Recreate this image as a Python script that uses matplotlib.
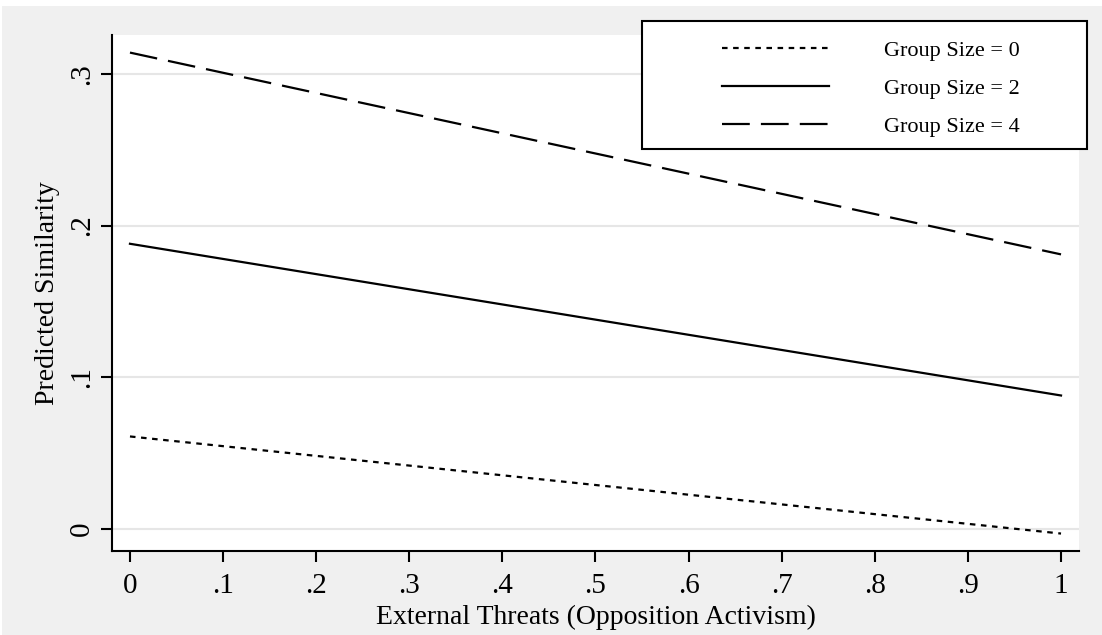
import matplotlib
matplotlib.use("Agg")
import matplotlib.pyplot as plt
from matplotlib.patches import Rectangle

plt.rcParams["font.family"] = ["Liberation Serif", "DejaVu Serif"]
plt.rcParams["lines.scale_dashes"] = False

# predicted similarity at the ends of the threat range
threats = [0.0, 1.0]
group0 = [0.061, -0.003]
group2 = [0.188, 0.088]
group4 = [0.314, 0.181]
labels = ["Group Size = 0", "Group Size = 2", "Group Size = 4"]

xticks = [0, .1, .2, .3, .4, .5, .6, .7, .8, .9, 1]
xticklabels = ["0", ".1", ".2", ".3", ".4", ".5", ".6", ".7", ".8", ".9", "1"]
yticks = [0, .1, .2, .3]
yticklabels = ["0", ".1", ".2", ".3"]

W, H = 1102, 635
fig = plt.figure(figsize=(W / 100, H / 100), dpi=100, facecolor="white")
fig.patches.append(Rectangle((2 / W, 0), 1, 1 - 6 / H, transform=fig.transFigure,
                             facecolor="#f0f0f0", edgecolor="none", zorder=-10))

ax = fig.add_axes([112 / W, (H - 551) / H, (1079 - 112) / W, (551 - 35) / H])
ax.set_facecolor("white")

ax.plot(threats, group0, color="black", lw=1.6, dashes=(4, 4), label=labels[0])
ax.plot(threats, group2, color="black", lw=1.6, label=labels[1])
ax.plot(threats, group4, color="black", lw=1.6, dashes=(20, 8), label=labels[2])

ax.set_xlim(-0.0193, 1.0193)
ax.set_ylim(-0.0145, 0.3256)
ax.set_xticks(xticks)
ax.set_xticklabels(xticklabels)
ax.set_yticks(yticks)
ax.set_yticklabels(yticklabels, rotation=90, va="center")
ax.grid(axis="y", color="#e6e6e6", lw=1.5)
ax.set_axisbelow(True)

for s in ["top", "right"]:
    ax.spines[s].set_visible(False)
for s in ["left", "bottom"]:
    ax.spines[s].set_linewidth(1.5)
ax.tick_params(axis="both", length=8, width=1.5, labelsize=21)
ax.tick_params(axis="x", pad=8)
ax.tick_params(axis="y", pad=4)

ax.set_xlabel("External Threats (Opposition Activism)", fontsize=20, labelpad=4)
ax.set_ylabel("Predicted Similarity", fontsize=20, labelpad=7)

fig.patches.append(Rectangle((642 / W, (H - 149) / H), (1087 - 642) / W, (149 - 21) / H,
                             transform=fig.transFigure, facecolor="white",
                             edgecolor="black", lw=1.5, zorder=4))
handles, _ = ax.get_legend_handles_labels()
leg = fig.legend(handles, labels, loc="upper left", bbox_to_anchor=(722 / W, (H - 40) / H),
                 bbox_transform=fig.transFigure, frameon=False, fontsize=16,
                 handlelength=4.8, handletextpad=2.5, labelspacing=0.80,
                 borderpad=0, borderaxespad=0)
leg.set_zorder(6)

fig.savefig("out.png", dpi=100, facecolor=fig.get_facecolor())
